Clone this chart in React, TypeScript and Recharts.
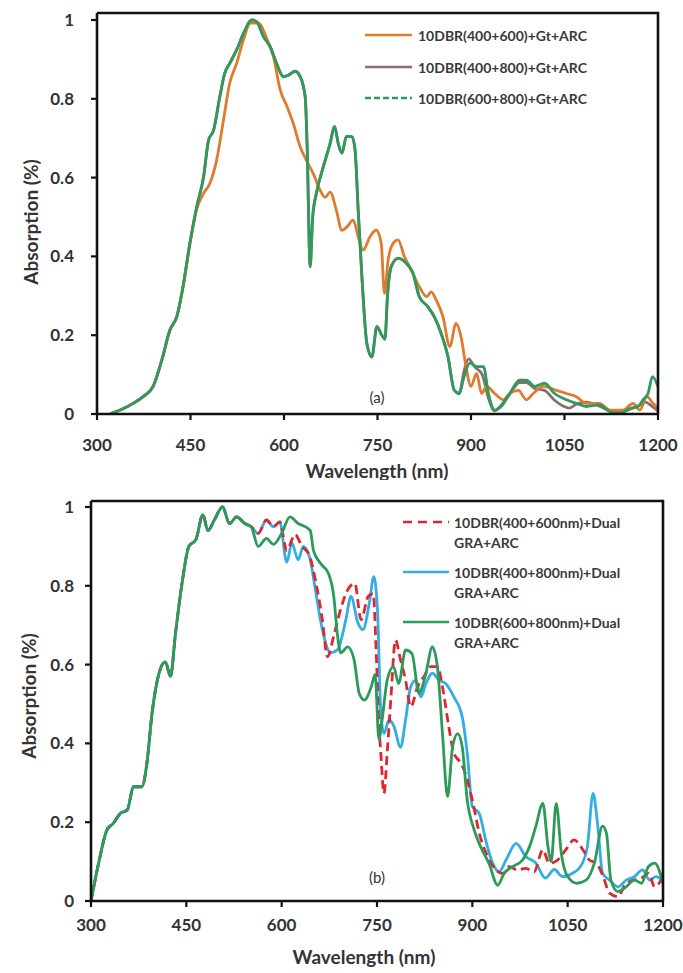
import React from 'react';
import { LineChart, Line, XAxis, YAxis, Legend } from 'recharts';

type Pt = [number, number];

const wavelengthTicks = [300, 450, 600, 750, 900, 1050, 1200];
const absorptionTicks = [0, 0.2, 0.4, 0.6, 0.8, 1];

// ---- Panel (a): 10DBR + Gt + ARC ----
const gtRise: Pt[] = [
  [321, 0], [340, 0.012], [358, 0.027], [374, 0.044], [390, 0.07], [404, 0.137],
  [417, 0.213], [428, 0.247], [438, 0.323], [449, 0.433],
];
const gt400_600Tail: Pt[] = [
  [460, 0.52], [471, 0.56], [481, 0.585], [492, 0.645], [503, 0.747], [513, 0.84],
  [524, 0.89], [535, 0.95], [546, 0.992], [559, 0.992], [573, 0.95], [583, 0.907],
  [594, 0.822], [605, 0.78], [615, 0.737], [626, 0.678], [636, 0.644], [647, 0.61],
  [658, 0.568], [666, 0.55], [674, 0.563], [684, 0.517], [693, 0.466], [701, 0.475],
  [711, 0.492], [719, 0.45], [727, 0.416], [738, 0.45], [748, 0.467], [756, 0.433],
  [761, 0.306], [767, 0.39], [775, 0.433], [783, 0.442], [793, 0.4], [804, 0.366],
  [817, 0.323], [829, 0.298], [836, 0.31], [844, 0.29], [855, 0.247], [866, 0.171],
  [876, 0.23], [884, 0.196], [892, 0.12], [900, 0.07], [909, 0.103], [917, 0.052],
  [925, 0.07], [938, 0.052], [952, 0.036], [962, 0.052], [976, 0.06], [989, 0.036],
  [1000, 0.052], [1016, 0.07], [1037, 0.06], [1053, 0.052], [1069, 0.044], [1085, 0.027],
  [1106, 0.027], [1123, 0.01], [1144, 0.01], [1160, 0.027], [1171, 0.01], [1182, 0.044],
  [1192, 0.027], [1200, 0.015],
];
// body shared by the two stacks that contain the 800 nm DBR
const gt800Body: Pt[] = [
  [460, 0.526], [471, 0.602], [479, 0.695], [487, 0.72], [497, 0.805], [505, 0.865],
  [513, 0.89], [524, 0.924], [535, 0.966], [548, 1.0], [556, 0.996], [567, 0.958],
  [578, 0.932], [588, 0.89], [599, 0.856], [607, 0.86], [618, 0.87], [626, 0.856],
  [634, 0.805], [637, 0.687], [642, 0.374], [646, 0.5], [652, 0.56], [663, 0.627],
  [674, 0.687], [681, 0.73], [687, 0.687], [693, 0.662], [700, 0.704], [709, 0.704],
  [714, 0.67], [719, 0.518], [725, 0.348], [733, 0.178], [741, 0.145], [749, 0.222],
  [757, 0.2], [762, 0.19], [766, 0.3], [772, 0.374], [783, 0.395], [796, 0.383],
  [807, 0.357], [817, 0.298], [831, 0.272], [841, 0.247], [852, 0.205], [863, 0.146],
  [873, 0.061], [881, 0.052],
];
const gt400_800Tail: Pt[] = [
  [889, 0.11], [896, 0.14], [906, 0.12], [918, 0.1], [928, 0.04], [938, 0.008],
  [949, 0.02], [962, 0.05], [978, 0.08], [989, 0.08], [1002, 0.065], [1018, 0.06],
  [1034, 0.035], [1048, 0.02], [1058, 0.015], [1069, 0.025], [1085, 0.03], [1106, 0.02],
  [1123, 0.008], [1139, 0.004], [1155, 0.012], [1168, 0.02], [1180, 0.03], [1190, 0.02],
  [1200, 0.008],
];
const gt600_800Tail: Pt[] = [
  [889, 0.095], [898, 0.129], [909, 0.12], [920, 0.12], [928, 0.052], [938, 0.01],
  [949, 0.023], [962, 0.052], [978, 0.086], [989, 0.086], [1002, 0.07], [1018, 0.078],
  [1034, 0.052], [1053, 0.036], [1069, 0.027], [1085, 0.019], [1106, 0.023], [1123, 0.006],
  [1139, 0.002], [1155, 0.014], [1168, 0.019], [1176, 0.036], [1184, 0.052], [1191, 0.095],
  [1200, 0.07],
];

// ---- Panel (b): 10DBR + Dual GRA + ARC ----
const dualRise: Pt[] = [
  [300, 0], [312, 0.096], [325, 0.18], [335, 0.197], [346, 0.222], [357, 0.231],
  [367, 0.29], [380, 0.29], [388, 0.35], [396, 0.476], [407, 0.578], [417, 0.607],
  [425, 0.57], [433, 0.68], [444, 0.815], [454, 0.9], [465, 0.917], [476, 0.98],
  [484, 0.94], [494, 0.967], [507, 1.0], [518, 0.958], [529, 0.975], [542, 0.958],
  [552, 0.95],
];
const dual400Head: Pt[] = [[563, 0.933], [576, 0.967], [587, 0.95], [597, 0.962]];
const dual400_600Tail: Pt[] = [
  [608, 0.89], [621, 0.93], [632, 0.9], [643, 0.88], [653, 0.815], [664, 0.714],
  [672, 0.62], [683, 0.68], [694, 0.747], [704, 0.79], [715, 0.806], [725, 0.714],
  [736, 0.773], [744, 0.78], [749, 0.62], [753, 0.45], [756, 0.375], [761, 0.273],
  [766, 0.375], [772, 0.518], [779, 0.662], [787, 0.612], [795, 0.56], [803, 0.493],
  [814, 0.544], [824, 0.57], [835, 0.595], [845, 0.595], [853, 0.544], [863, 0.442],
  [871, 0.375], [882, 0.35], [889, 0.324], [900, 0.256], [911, 0.172], [924, 0.113],
  [937, 0.079], [948, 0.07], [958, 0.087], [971, 0.079], [984, 0.083], [997, 0.074],
  [1011, 0.13], [1021, 0.096], [1034, 0.104], [1047, 0.13], [1060, 0.155], [1074, 0.13],
  [1084, 0.104], [1095, 0.096], [1105, 0.066], [1116, 0.02], [1129, 0.011], [1140, 0.04],
  [1153, 0.053], [1166, 0.058], [1177, 0.07], [1187, 0.036], [1200, 0.062],
];
const dual400_800Tail: Pt[] = [
  [608, 0.86], [616, 0.908], [626, 0.866], [634, 0.9], [645, 0.866], [653, 0.79],
  [664, 0.689], [677, 0.63], [688, 0.638], [701, 0.714], [709, 0.773], [720, 0.706],
  [728, 0.689], [738, 0.757], [745, 0.823], [751, 0.73], [756, 0.476], [761, 0.425],
  [769, 0.46], [777, 0.442], [787, 0.39], [795, 0.46], [803, 0.544], [811, 0.56],
  [819, 0.518], [827, 0.552], [837, 0.578], [848, 0.56], [858, 0.552], [871, 0.518],
  [884, 0.468], [892, 0.375], [900, 0.24], [911, 0.222], [921, 0.155], [932, 0.096],
  [942, 0.074], [953, 0.104], [969, 0.146], [984, 0.113], [1000, 0.096], [1015, 0.058],
  [1029, 0.08], [1042, 0.062], [1057, 0.07], [1070, 0.087], [1081, 0.138], [1090, 0.273],
  [1097, 0.197], [1105, 0.07], [1116, 0.053], [1129, 0.036], [1142, 0.053], [1155, 0.062],
  [1168, 0.079], [1179, 0.053], [1189, 0.062], [1200, 0.05],
];
const dual600_800Tail: Pt[] = [
  [563, 0.9], [576, 0.92], [587, 0.905], [600, 0.933], [613, 0.975], [626, 0.958],
  [637, 0.95], [645, 0.94], [650, 0.89], [661, 0.857], [674, 0.83], [682, 0.773],
  [688, 0.672], [693, 0.63], [704, 0.645], [714, 0.612], [722, 0.527], [730, 0.51],
  [741, 0.544], [747, 0.575], [753, 0.41], [758, 0.46], [766, 0.56], [776, 0.595],
  [784, 0.552], [795, 0.637], [805, 0.628], [816, 0.527], [827, 0.578], [837, 0.645],
  [845, 0.595], [853, 0.425], [861, 0.265], [869, 0.392], [877, 0.425], [884, 0.392],
  [892, 0.256], [903, 0.18], [913, 0.138], [926, 0.096], [940, 0.04], [950, 0.07],
  [963, 0.087], [979, 0.104], [990, 0.138], [1000, 0.19], [1011, 0.248], [1019, 0.138],
  [1024, 0.1], [1032, 0.248], [1040, 0.121], [1050, 0.062], [1064, 0.045], [1079, 0.053],
  [1092, 0.096], [1105, 0.19], [1111, 0.172], [1118, 0.053], [1129, 0.024], [1142, 0.036],
  [1155, 0.053], [1166, 0.045], [1177, 0.087], [1187, 0.096], [1200, 0.045],
];

type Series = {
  key: string;
  name: string[];
  color: string;
  points: Pt[];
  dash?: string;
  legendDash?: string;
};

// drawing order: first is painted first (underneath)
const seriesA: Series[] = [
  { key: 'a800', name: ['10DBR(400+800)+Gt+ARC'], color: '#8a6e70', points: [...gtRise, ...gt800Body, ...gt400_800Tail] },
  { key: 'a600', name: ['10DBR(400+600)+Gt+ARC'], color: '#e07a2c', points: [...gtRise, ...gt400_600Tail] },
  { key: 'a68', name: ['10DBR(600+800)+Gt+ARC'], color: '#2e9a5c', points: [...gtRise, ...gt800Body, ...gt600_800Tail], legendDash: '6 3' },
];
const legendOrderA = ['a600', 'a800', 'a68'];

const seriesB: Series[] = [
  { key: 'b48', name: ['10DBR(400+800nm)+Dual', 'GRA+ARC'], color: '#32aee2', points: [...dualRise, ...dual400Head, ...dual400_800Tail] },
  { key: 'b46', name: ['10DBR(400+600nm)+Dual', 'GRA+ARC'], color: '#e0262f', points: [...dualRise, ...dual400Head, ...dual400_600Tail], dash: '9 5', legendDash: '9 6' },
  { key: 'b68', name: ['10DBR(600+800nm)+Dual', 'GRA+ARC'], color: '#2c9a58', points: [...dualRise, ...dual600_800Tail] },
];
const legendOrderB = ['b46', 'b48', 'b68'];

const toRows = (pts: Pt[]) => pts.map(([wl, abs]) => ({ wl, abs }));

const FONT = 'Lato, "Open Sans", sans-serif';
const INK = '#333';
const tickText = { fill: INK, fontSize: 17, fontWeight: 700, fontFamily: FONT };
const frameLine = { stroke: '#111', strokeWidth: 2.6 };
const tickMark = { stroke: '#111', strokeWidth: 2.2 };

type PanelLayout = {
  width: number;
  height: number;
  top: number;
  right: number;
  left: number;
  bottom: number;
  yMax: number;
  xTickMargin: number;
  yTickMargin: number;
  xTitle: { x: number; y: number };
  yTitle: { x: number; y: number };
  tag: { text: string; x: number; y: number };
  legend: { lineX1: number; lineX2: number; textX: number; rows: number[]; lineGap: number };
};

const layoutA: PanelLayout = {
  width: 683, height: 480, top: 13, right: 25, left: 97, bottom: 66, yMax: 1.0178,
  xTickMargin: 19, yTickMargin: 17,
  xTitle: { x: 377, y: 470 }, yTitle: { x: 30, y: 222 },
  tag: { text: '(a)', x: 377, y: 397 },
  legend: { lineX1: 365, lineX2: 412, textX: 418, rows: [35, 67, 98], lineGap: 20 },
};
const layoutB: PanelLayout = {
  width: 683, height: 493, top: 21, right: 20, left: 91, bottom: 72, yMax: 1.0152,
  xTickMargin: 12, yTickMargin: 11,
  xTitle: { x: 364, y: 476 }, yTitle: { x: 28, y: 216 },
  tag: { text: '(b)', x: 377, y: 397 },
  legend: { lineX1: 403, lineX2: 449, textX: 454, rows: [42, 92, 142], lineGap: 20 },
};

function Panel({ series, order, layout }: { series: Series[]; order: string[]; layout: PanelLayout }) {
  const lg = layout.legend;
  const legendItems = order.map((k) => series.find((s) => s.key === k)!);
  const plotRight = layout.width - layout.right;
  const plotBottom = layout.height - layout.bottom;

  // legend block, panel tag and the closing frame around the plot area
  const overlay = () => (
    <svg width={layout.width} height={layout.height} style={{ display: 'block' }}>
      <path d={`M${layout.left},${layout.top} H${plotRight} V${plotBottom}`} fill="none"
        stroke={frameLine.stroke} strokeWidth={frameLine.strokeWidth} />
      {legendItems.map((s, i) => (
        <g key={s.key}>
          <line x1={lg.lineX1} x2={lg.lineX2} y1={lg.rows[i]} y2={lg.rows[i]} stroke={s.color} strokeWidth={2.6}
            strokeDasharray={s.legendDash ?? s.dash} />
          {s.name.map((t, j) => (
            <text key={j} x={lg.textX} y={lg.rows[i] + j * lg.lineGap} dominantBaseline="central"
              fill="#3a3a3a" fontSize={14} fontWeight={700} fontFamily={FONT}>{t}</text>
          ))}
        </g>
      ))}
      <text x={layout.tag.x} y={layout.tag.y} textAnchor="middle" dominantBaseline="central"
        fill={INK} fontSize={15} fontFamily={FONT}>{layout.tag.text}</text>
    </svg>
  );

  const xTitle = () => (
    <text x={layout.xTitle.x} y={layout.xTitle.y} textAnchor="middle" dominantBaseline="central"
      fill={INK} fontSize={19} fontWeight={700} fontFamily={FONT}>Wavelength (nm)</text>
  );
  const yTitle = () => (
    <text x={layout.yTitle.x} y={layout.yTitle.y} textAnchor="middle" dominantBaseline="central"
      transform={`rotate(-90 ${layout.yTitle.x} ${layout.yTitle.y})`}
      fill={INK} fontSize={19} fontWeight={700} fontFamily={FONT}>Absorption (%)</text>
  );

  return (
    <LineChart width={layout.width} height={layout.height}
      margin={{ top: layout.top, right: layout.right, bottom: 0, left: 0 }}>
      <XAxis dataKey="wl" type="number" domain={[300, 1200]} ticks={wavelengthTicks} allowDataOverflow
        height={layout.bottom} tickSize={6} tickMargin={layout.xTickMargin} tick={tickText}
        axisLine={frameLine} tickLine={tickMark} label={{ content: xTitle }} />
      <YAxis type="number" domain={[0, layout.yMax]} ticks={absorptionTicks} allowDataOverflow
        width={layout.left} tickSize={6} tickMargin={layout.yTickMargin} tick={tickText}
        axisLine={frameLine} tickLine={tickMark} label={{ content: yTitle }} />
      <Legend layout="vertical" align="center" verticalAlign="middle" content={overlay}
        wrapperStyle={{ top: 0, left: 0, width: layout.width, height: layout.height, pointerEvents: 'none' }} />
      {series.map((s) => (
        <Line key={s.key} data={toRows(s.points)} dataKey="abs" name={s.name.join(' ')} type="monotone"
          stroke={s.color} strokeWidth={2.8} strokeDasharray={s.dash} dot={false} activeDot={false}
          isAnimationActive={false} />
      ))}
    </LineChart>
  );
}

export default function App() {
  return (
    <div style={{ position: 'absolute', left: 0, top: 0, width: 683, height: 973, background: '#fff' }}>
      <Panel series={seriesA} order={legendOrderA} layout={layoutA} />
      <Panel series={seriesB} order={legendOrderB} layout={layoutB} />
    </div>
  );
}
